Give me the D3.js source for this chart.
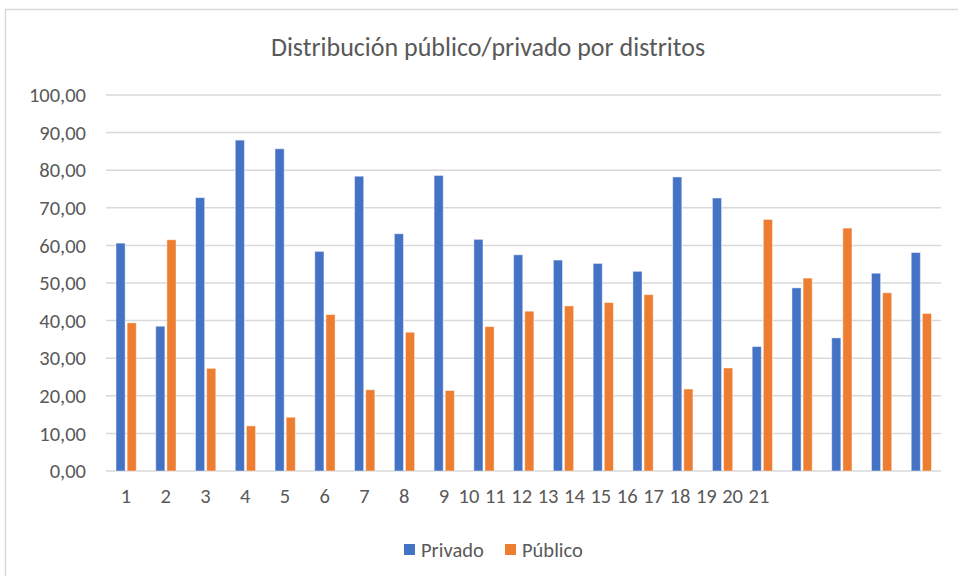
<!DOCTYPE html>
<html>
<head>
<meta charset="utf-8">
<script src="https://cdn.jsdelivr.net/npm/d3@7"></script>
<style>
  html, body { margin: 0; padding: 0; background: #ffffff; }
  svg { display: block; }
</style>
</head>
<body>
<div id="container"></div>
<script>
// data
const distritos = d3.range(1, 22).map(String);
const privado = [60.6, 38.5, 72.7, 88.0, 85.7, 58.4, 78.4, 63.1, 78.6, 61.6, 57.5,
                 56.1, 55.2, 53.1, 78.2, 72.6, 33.1, 48.7, 35.4, 52.6, 58.1];
const publico = [39.4, 61.5, 27.3, 12.0, 14.3, 41.6, 21.6, 36.9, 21.4, 38.4, 42.5,
                 43.9, 44.8, 46.9, 21.8, 27.4, 66.9, 51.3, 64.6, 47.4, 41.9];
const series = ['Privado', 'Público'];
const colors = ['#4472C4', '#ED7D31'];
const yTicks = [0, 10, 20, 30, 40, 50, 60, 70, 80, 90, 100];
const tickLabels = d3.range(1, 22).map(String);

const W = 958, H = 576;
const font = "Carlito, 'Open Sans', sans-serif";
const textColor = '#595959';
const gridColor = '#d9d9d9';

const svg = d3.select('#container')
    .append('svg')
    .attr('width', W)
    .attr('height', H)
    .attr('font-family', font);

// chart area border (runs past the right and bottom edge)
svg.append('rect')
    .attr('x', 5.5)
    .attr('y', 9.5)
    .attr('width', 1000)
    .attr('height', 1000)
    .attr('fill', '#fff')
    .attr('stroke', gridColor)
    .attr('stroke-width', 1.5);

svg.append('text')
    .attr('x', 488)
    .attr('y', 56)
    .attr('text-anchor', 'middle')
    .attr('fill', textColor)
    .attr('font-size', 26)
    .text('Distribución público/privado por distritos');

const x = d3.scaleBand()
    .domain(distritos)
    .range([106, 941]);

const x1 = d3.scaleBand()
    .domain(series)
    .range([10, x.bandwidth() - 9.5])
    .paddingInner(0.18);

const y = d3.scaleLinear()
    .domain([0, 100])
    .range([471, 95]);

// gridlines
svg.append('g')
    .selectAll('line')
    .data(yTicks).enter()
    .append('line')
    .attr('x1', 106)
    .attr('x2', 941)
    .attr('y1', d => y(d))
    .attr('y2', d => y(d))
    .attr('stroke', gridColor)
    .attr('stroke-width', 1.5);

// y axis labels
const fmt = d3.format('.2f');
svg.append('g')
    .selectAll('text')
    .data(yTicks).enter()
    .append('text')
    .attr('x', 86)
    .attr('y', d => y(d))
    .attr('dy', '0.35em')
    .attr('text-anchor', 'end')
    .attr('fill', textColor)
    .attr('font-size', 20.5)
    .text(d => fmt(d).replace('.', ','));

// bars
const rows = distritos.map((d, i) => ({ d, vals: [privado[i], publico[i]] }));
const groups = svg.append('g')
    .selectAll('g')
    .data(rows).enter()
    .append('g')
    .attr('transform', r => `translate(${x(r.d)},0)`);

groups.selectAll('rect')
    .data(r => series.map((s, j) => ({ s, j, v: r.vals[j] })))
    .enter()
    .append('rect')
    .attr('x', b => x1(b.s))
    .attr('width', x1.bandwidth())
    .attr('y', b => y(b.v))
    .attr('height', b => y(0) - y(b.v))
    .attr('fill', b => colors[b.j])
    .attr('stroke', '#ffffff')
    .attr('stroke-opacity', 0.45)
    .attr('stroke-width', 1);

// x labels: 1-9 sit under their groups, 10-21 are squeezed together
const xLab = d3.scaleLinear().domain([10, 21]).range([469, 759]);
svg.append('g')
    .selectAll('text')
    .data(tickLabels).enter()
    .append('text')
    .attr('x', t => +t < 10 ? x(t) + x.bandwidth() / 2 : xLab(+t))
    .attr('y', 503)
    .attr('text-anchor', 'middle')
    .attr('fill', textColor)
    .attr('font-size', 20.5)
    .text(t => t);

// legend
const legend = svg.append('g')
    .selectAll('g')
    .data(series).enter()
    .append('g')
    .attr('transform', (s, i) => `translate(${404 + i * 101},544)`);

legend.append('rect')
    .attr('width', 11)
    .attr('height', 11)
    .attr('fill', (s, i) => colors[i]);

legend.append('text')
    .attr('x', 17)
    .attr('y', 13)
    .attr('fill', textColor)
    .attr('font-size', 20.5)
    .text(s => s);
</script>
</body>
</html>
